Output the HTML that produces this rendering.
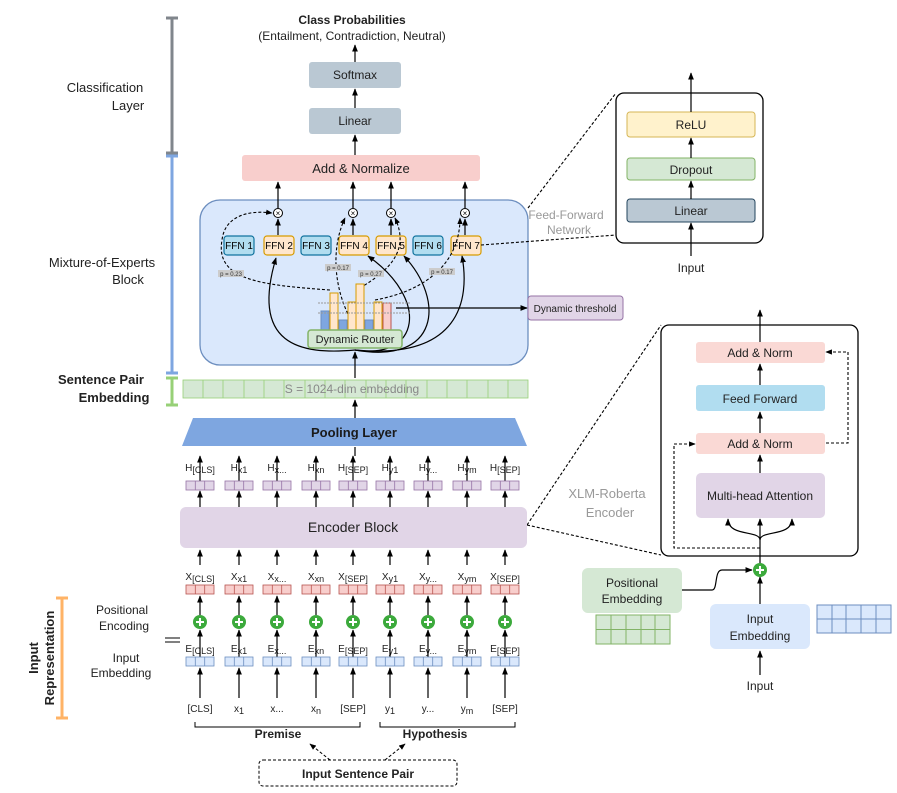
<!DOCTYPE html>
<html><head><meta charset="utf-8"><style>
body{margin:0;background:#fff}
svg{display:block;font-family:"Liberation Sans",sans-serif}
</style></head><body>
<svg width="897" height="793" viewBox="0 0 897 793" xmlns="http://www.w3.org/2000/svg">
<defs>
<marker id="a" viewBox="0 0 10 10" refX="9" refY="5" markerWidth="6" markerHeight="6" orient="auto"><path d="M0,1 L10,5 L0,9 Z" fill="#000"/></marker>
</defs>
<style>
.t{font-size:12px;fill:#222;text-anchor:middle}
.s{font-size:9px}
.ln{stroke:#000;stroke-width:1.2;fill:none}
.d{stroke:#000;stroke-width:1.1;fill:none;stroke-dasharray:3,2}
</style>

<!-- left brackets -->
<g stroke-width="3" fill="none">
<path d="M172,18V153 M166,18H178 M166,153H178" stroke="#80868c"/>
<path d="M172,156V373 M166,156H178 M166,373H178" stroke="#7ea6e0"/>
<path d="M172,378V405 M166,378H178 M166,405H178" stroke="#97d077"/>
<path d="M62,598V718 M56,598H68 M56,718H68" stroke="#ffb366"/>
</g>
<text class="t" x="105" y="92" style="font-size:13px">Classification</text>
<text class="t" x="128" y="110" style="font-size:13px">Layer</text>
<text class="t" x="102" y="267" style="font-size:13px">Mixture-of-Experts</text>
<text class="t" x="128" y="284" style="font-size:13px">Block</text>
<text class="t" x="101" y="384" style="font-size:13px;font-weight:bold">Sentence Pair</text>
<text class="t" x="114" y="402" style="font-size:13px;font-weight:bold">Embedding</text>
<text class="t" x="122" y="614">Positional</text>
<text class="t" x="124" y="630">Encoding</text>
<text class="t" x="126" y="662">Input</text>
<text class="t" x="121" y="677">Embedding</text>
<text class="t" transform="translate(38,658) rotate(-90)" style="font-size:13px;font-weight:bold">Input</text>
<text class="t" transform="translate(54,658) rotate(-90)" style="font-size:13px;font-weight:bold">Representation</text>
<path d="M165,638H180 M165,642H180" stroke="#000"/>

<!-- top -->
<text class="t" x="352" y="24" style="font-weight:bold;font-size:12px">Class Probabilities</text>
<text class="t" x="352" y="40">(Entailment, Contradiction, Neutral)</text>
<rect x="309" y="62" width="92" height="26" rx="3" fill="#bac8d3"/>
<text class="t" x="355" y="79">Softmax</text>
<rect x="309" y="108" width="92" height="26" rx="3" fill="#bac8d3"/>
<text class="t" x="355" y="125">Linear</text>
<line class="ln" x1="355" y1="62" x2="355" y2="45" marker-end="url(#a)"/>
<line class="ln" x1="355" y1="108" x2="355" y2="89" marker-end="url(#a)"/>
<line class="ln" x1="355" y1="155" x2="355" y2="135" marker-end="url(#a)"/>
<rect x="242" y="155" width="238" height="26" rx="3" fill="#f8cecc"/>
<text class="t" x="361" y="173" style="font-size:13px">Add &amp; Normalize</text>

<!-- MoE -->
<rect x="200" y="200" width="328" height="165" rx="20" fill="#dae8fc" stroke="#6c8ebf" stroke-width="1.3"/>
<g class="ln">
<line x1="278" y1="208" x2="278" y2="182" marker-end="url(#a)"/>
<line x1="353" y1="208" x2="353" y2="182" marker-end="url(#a)"/>
<line x1="391" y1="208" x2="391" y2="182" marker-end="url(#a)"/>
<line x1="465" y1="208" x2="465" y2="182" marker-end="url(#a)"/>
<line x1="278" y1="235" x2="278" y2="219" marker-end="url(#a)"/>
<line x1="353" y1="235" x2="353" y2="219" marker-end="url(#a)"/>
<line x1="391" y1="235" x2="391" y2="219" marker-end="url(#a)"/>
<line x1="465" y1="235" x2="465" y2="219" marker-end="url(#a)"/>
</g>
<g fill="#fff" stroke="#000">
<circle cx="278" cy="213" r="4.5"/><circle cx="353" cy="213" r="4.5"/><circle cx="391" cy="213" r="4.5"/><circle cx="465" cy="213" r="4.5"/>
</g>
<g font-size="8" text-anchor="middle"><text x="278" y="216">×</text><text x="353" y="216">×</text><text x="391" y="216">×</text><text x="465" y="216">×</text></g>
<g stroke-width="1.2">
<rect x="224" y="236" width="30" height="19" rx="3" fill="#b1ddf0" stroke="#10739e"/>
<rect x="264" y="236" width="30" height="19" rx="3" fill="#ffe6cc" stroke="#d79b00"/>
<rect x="301" y="236" width="30" height="19" rx="3" fill="#b1ddf0" stroke="#10739e"/>
<rect x="339" y="236" width="30" height="19" rx="3" fill="#ffe6cc" stroke="#d79b00"/>
<rect x="376" y="236" width="30" height="19" rx="3" fill="#ffe6cc" stroke="#d79b00"/>
<rect x="413" y="236" width="30" height="19" rx="3" fill="#b1ddf0" stroke="#10739e"/>
<rect x="451" y="236" width="30" height="19" rx="3" fill="#ffe6cc" stroke="#d79b00"/>
</g>
<g font-size="10" text-anchor="middle">
<text x="239" y="249">FFN 1</text><text x="279" y="249">FFN 2</text><text x="316" y="249">FFN 3</text><text x="354" y="249">FFN 4</text><text x="391" y="249">FFN 5</text><text x="428" y="249">FFN 6</text><text x="466" y="249">FFN 7</text>
</g>
<!-- curved routes -->
<g class="ln">
<path d="M355,350 C300,355 250,345 276,258" marker-end="url(#a)"/>
<path d="M355,350 C420,360 430,300 368,256" marker-end="url(#a)"/>
<path d="M355,350 C440,365 445,300 404,256" marker-end="url(#a)"/>
<path d="M355,350 C460,360 470,300 462,256" marker-end="url(#a)"/>
</g>
<!-- dashed -->
<g class="d">
<path d="M330,290 C260,285 215,280 222,240 C225,215 250,210 272,213" marker-end="url(#a)"/>
<path d="M350,318 C335,290 330,250 345,218" marker-end="url(#a)"/>
<path d="M360,288 C390,270 410,250 395,218" marker-end="url(#a)"/>
<path d="M375,300 C430,290 460,260 460,218" marker-end="url(#a)"/>
<path d="M481,245 L616,235"/>
<path d="M528,208 L616,93"/>
<path d="M527,525 L661,325"/>
<path d="M527,525 L661,555"/>
</g>
<g font-size="6" text-anchor="middle" fill="#333">
<rect x="218" y="270" width="26" height="7" fill="#ccc"/><text x="231" y="276">p = 0.23</text>
<rect x="325" y="264" width="26" height="7" fill="#ccc"/><text x="338" y="270">p = 0.17</text>
<rect x="358" y="270" width="26" height="7" fill="#ccc"/><text x="371" y="276">p = 0.27</text>
<rect x="429" y="268" width="26" height="7" fill="#ccc"/><text x="442" y="274">p = 0.17</text>
</g>
<!-- bars -->
<g stroke-width="1">
<rect x="321" y="311" width="8" height="19" fill="#7ea6e0" stroke="#6c8ebf"/>
<rect x="330" y="293" width="8" height="37" fill="#ffe6cc" stroke="#d79b00"/>
<rect x="339" y="320" width="8" height="10" fill="#7ea6e0" stroke="#6c8ebf"/>
<rect x="348" y="302" width="8" height="28" fill="#ffe6cc" stroke="#d79b00"/>
<rect x="356" y="284" width="8" height="46" fill="#ffe6cc" stroke="#d79b00"/>
<rect x="365" y="320" width="8" height="10" fill="#7ea6e0" stroke="#6c8ebf"/>
<rect x="374" y="302" width="8" height="28" fill="#ffe6cc" stroke="#d79b00"/>
<rect x="383" y="303" width="8" height="27" fill="#f8cecc" stroke="#b85450"/>
</g>
<path d="M318,303H410 M318,313H410" stroke="#999" stroke-dasharray="2,1"/>
<line class="ln" x1="396" y1="308" x2="527" y2="308" marker-end="url(#a)"/>
<rect x="308" y="330" width="94" height="18" rx="3" fill="#d5e8d4" stroke="#82b366" stroke-width="1.5"/>
<text class="t" x="355" y="343" style="font-size:11px">Dynamic Router</text>
<line class="ln" x1="355" y1="378" x2="355" y2="352" marker-end="url(#a)"/>
<rect x="528" y="296" width="95" height="24" rx="3" fill="#e1d5e7" stroke="#9673a6"/>
<text class="t" x="575" y="312" style="font-size:10px">Dynamic threshold</text>

<!-- sentence embedding -->
<g fill="#d5e8d4" stroke="#97d077" stroke-width="0.8">
<rect x="183" y="380" width="345" height="18"/>
</g>
<path d="M203,380v18 M223,380v18 M244,380v18 M264,380v18 M284,380v18 M305,380v18 M325,380v18 M345,380v18 M366,380v18 M386,380v18 M406,380v18 M427,380v18 M447,380v18 M467,380v18 M488,380v18 M508,380v18" stroke="#97d077" stroke-width="0.8"/>
<text class="t" x="352" y="393" style="fill:#888">S = 1024-dim embedding</text>
<line class="ln" x1="355" y1="418" x2="355" y2="400" marker-end="url(#a)"/>
<path d="M193,418 H515 L527,446 H182 Z" fill="#7ea6e0"/>
<text class="t" x="354" y="437" style="font-size:13px;font-weight:bold;fill:#1a1a1a">Pooling Layer</text>

<!-- token columns -->
<g id="cols"></g>
<rect x="180" y="507" width="347" height="41" rx="6" fill="#e1d5e7"/>
<text class="t" x="353" y="532" style="font-size:14px">Encoder Block</text>

<g class="t" style="font-size:10px">
<text x="200" y="471">H<tspan class="s" dy="2">[CLS]</tspan></text>
<text x="239" y="471">H<tspan class="s" dy="2">x1</tspan></text>
<text x="277" y="471">H<tspan class="s" dy="2">x...</tspan></text>
<text x="316" y="471">H<tspan class="s" dy="2">xn</tspan></text>
<text x="353" y="471">H<tspan class="s" dy="2">[SEP]</tspan></text>
<text x="390" y="471">H<tspan class="s" dy="2">y1</tspan></text>
<text x="428" y="471">H<tspan class="s" dy="2">y...</tspan></text>
<text x="467" y="471">H<tspan class="s" dy="2">ym</tspan></text>
<text x="505" y="471">H<tspan class="s" dy="2">[SEP]</tspan></text>
<text x="200" y="580">X<tspan class="s" dy="2">[CLS]</tspan></text>
<text x="239" y="580">X<tspan class="s" dy="2">x1</tspan></text>
<text x="277" y="580">X<tspan class="s" dy="2">x...</tspan></text>
<text x="316" y="580">X<tspan class="s" dy="2">xn</tspan></text>
<text x="353" y="580">X<tspan class="s" dy="2">[SEP]</tspan></text>
<text x="390" y="580">X<tspan class="s" dy="2">y1</tspan></text>
<text x="428" y="580">X<tspan class="s" dy="2">y...</tspan></text>
<text x="467" y="580">X<tspan class="s" dy="2">ym</tspan></text>
<text x="505" y="580">X<tspan class="s" dy="2">[SEP]</tspan></text>
<text x="200" y="652">E<tspan class="s" dy="2">[CLS]</tspan></text>
<text x="239" y="652">E<tspan class="s" dy="2">x1</tspan></text>
<text x="277" y="652">E<tspan class="s" dy="2">x...</tspan></text>
<text x="316" y="652">E<tspan class="s" dy="2">xn</tspan></text>
<text x="353" y="652">E<tspan class="s" dy="2">[SEP]</tspan></text>
<text x="390" y="652">E<tspan class="s" dy="2">y1</tspan></text>
<text x="428" y="652">E<tspan class="s" dy="2">y...</tspan></text>
<text x="467" y="652">E<tspan class="s" dy="2">ym</tspan></text>
<text x="505" y="652">E<tspan class="s" dy="2">[SEP]</tspan></text>
</g>
<g class="t" style="font-size:10px">
<text x="200" y="712">[CLS]</text><text x="239" y="712">x<tspan class="s" dy="2">1</tspan></text><text x="277" y="712">x...</text><text x="316" y="712">x<tspan class="s" dy="2">n</tspan></text><text x="353" y="712">[SEP]</text><text x="390" y="712">y<tspan class="s" dy="2">1</tspan></text><text x="428" y="712">y...</text><text x="467" y="712">y<tspan class="s" dy="2">m</tspan></text><text x="505" y="712">[SEP]</text>
</g>

<!-- right FFN detail -->
<rect x="616" y="93" width="147" height="150" rx="8" fill="#fff" stroke="#000" stroke-width="1.3"/>
<rect x="627" y="112" width="128" height="25" rx="3" fill="#fff2cc" stroke="#d6b656"/>
<text class="t" x="691" y="129">ReLU</text>
<rect x="627" y="158" width="128" height="22" rx="3" fill="#d5e8d4" stroke="#82b366"/>
<text class="t" x="691" y="174">Dropout</text>
<rect x="627" y="199" width="128" height="23" rx="3" fill="#bac8d3" stroke="#23445d"/>
<text class="t" x="691" y="215">Linear</text>
<g class="ln">
<line x1="691" y1="112" x2="691" y2="73" marker-end="url(#a)"/>
<line x1="691" y1="158" x2="691" y2="138" marker-end="url(#a)"/>
<line x1="691" y1="199" x2="691" y2="181" marker-end="url(#a)"/>
<line x1="691" y1="256" x2="691" y2="223" marker-end="url(#a)"/>
</g>
<text class="t" x="691" y="272">Input</text>
<text class="t" x="566" y="219" style="fill:#999">Feed-Forward</text>
<text class="t" x="569" y="234" style="fill:#999">Network</text>

<!-- encoder detail -->
<rect x="661" y="325" width="197" height="231" rx="8" fill="#fff" stroke="#000" stroke-width="1.3"/>
<rect x="696" y="342" width="129" height="21" rx="3" fill="#fad9d5"/>
<text class="t" x="760" y="357">Add &amp; Norm</text>
<rect x="696" y="385" width="129" height="26" rx="3" fill="#b1ddf0"/>
<text class="t" x="760" y="403">Feed Forward</text>
<rect x="696" y="433" width="129" height="21" rx="3" fill="#fad9d5"/>
<text class="t" x="760" y="448">Add &amp; Norm</text>
<rect x="696" y="473" width="129" height="45" rx="5" fill="#e1d5e7"/>
<text class="t" x="760" y="500">Multi-head Attention</text>
<g class="ln">
<line x1="760" y1="342" x2="760" y2="310" marker-end="url(#a)"/>
<line x1="760" y1="385" x2="760" y2="364" marker-end="url(#a)"/>
<line x1="760" y1="433" x2="760" y2="412" marker-end="url(#a)"/>
<line x1="760" y1="473" x2="760" y2="455" marker-end="url(#a)"/>
<line x1="760" y1="564" x2="760" y2="519" marker-end="url(#a)"/>
<path d="M760,540 C760,530 728,537 728,519" marker-end="url(#a)"/>
<path d="M760,540 C760,530 792,537 792,519" marker-end="url(#a)"/>
<line x1="760" y1="604" x2="760" y2="577" marker-end="url(#a)"/>
<line x1="760" y1="675" x2="760" y2="651" marker-end="url(#a)"/>
<path d="M682,590 H712 C718,590 714,570 722,570 H752" marker-end="url(#a)"/>
</g>
<g class="d">
<path d="M760,548 H674 V444 H695" marker-end="url(#a)"/>
<path d="M826,443 H848 V352 H826" marker-end="url(#a)"/>
</g>
<text class="t" x="607" y="498" style="fill:#999;font-size:13px">XLM-Roberta</text>
<text class="t" x="610" y="517" style="fill:#999;font-size:13px">Encoder</text>
<circle cx="760" cy="570" r="7" fill="#3caa3c"/>
<path d="M756,570h8M760,566v8" stroke="#fff" stroke-width="2"/>
<rect x="582" y="568" width="100" height="45" rx="6" fill="#d5e8d4"/>
<text class="t" x="632" y="587">Positional</text>
<text class="t" x="632" y="603">Embedding</text>
<rect x="596" y="615" width="74" height="29" fill="#d5e8d4" stroke="#82b366"/>
<path d="M596,629.5H670 M611,615v29 M626,615v29 M641,615v29 M655,615v29" stroke="#82b366"/>
<rect x="710" y="604" width="100" height="45" rx="6" fill="#dae8fc"/>
<text class="t" x="760" y="623">Input</text>
<text class="t" x="760" y="640">Embedding</text>
<rect x="817" y="605" width="74" height="28" fill="#dae8fc" stroke="#6c8ebf"/>
<path d="M817,619H891 M832,605v28 M846,605v28 M861,605v28 M876,605v28" stroke="#6c8ebf"/>
<text class="t" x="760" y="690">Input</text>

<!-- bottom -->
<path d="M195,722V727H360V722 M380,722V727H515V722" stroke="#000" fill="none"/>
<text class="t" x="278" y="738" style="font-weight:bold">Premise</text>
<text class="t" x="435" y="738" style="font-weight:bold">Hypothesis</text>
<g class="d"><path d="M330,760 L310,744" marker-end="url(#a)"/><path d="M385,760 L405,744" marker-end="url(#a)"/></g>
<rect x="259" y="760" width="198" height="26" rx="4" fill="#fff" stroke="#000" stroke-dasharray="3,2"/>
<text class="t" x="358" y="778" style="font-weight:bold">Input Sentence Pair</text>

<!-- columns -->
<g id="c">
<g transform="translate(200,0)"><use href="#col"/></g>
</g>
<defs>
<g id="col">
<line class="ln" x1="0" y1="507" x2="0" y2="491" marker-end="url(#a)"/>
<line class="ln" x1="0" y1="481" x2="0" y2="456" marker-end="url(#a)"/>
<rect x="-14" y="481" width="28" height="9" fill="#e1d5e7" stroke="#9673a6" stroke-width="0.8"/>
<path d="M-4.7,481v9M4.7,481v9" stroke="#9673a6" stroke-width="0.8"/>
<line class="ln" x1="0" y1="565" x2="0" y2="550" marker-end="url(#a)"/>
<rect x="-14" y="585" width="28" height="9" fill="#f8cecc" stroke="#b85450" stroke-width="0.8"/>
<path d="M-4.7,585v9M4.7,585v9" stroke="#b85450" stroke-width="0.8"/>
<line class="ln" x1="0" y1="615" x2="0" y2="596" marker-end="url(#a)"/>
<circle cx="0" cy="622" r="7" fill="#3caa3c"/>
<path d="M-4,622h8M0,618v8" stroke="#fff" stroke-width="2"/>
<line class="ln" x1="0" y1="657" x2="0" y2="630" marker-end="url(#a)"/>
<rect x="-14" y="657" width="28" height="9" fill="#dae8fc" stroke="#6c8ebf" stroke-width="0.8"/>
<path d="M-4.7,657v9M4.7,657v9" stroke="#6c8ebf" stroke-width="0.8"/>
<line class="ln" x1="0" y1="698" x2="0" y2="668" marker-end="url(#a)"/>
</g>
</defs>
<use href="#col" x="239"/><use href="#col" x="277"/><use href="#col" x="316"/><use href="#col" x="353"/><use href="#col" x="390"/><use href="#col" x="428"/><use href="#col" x="467"/><use href="#col" x="505"/>
<line class="ln" x1="355" y1="456" x2="355" y2="447" />
</svg>
</body></html>
